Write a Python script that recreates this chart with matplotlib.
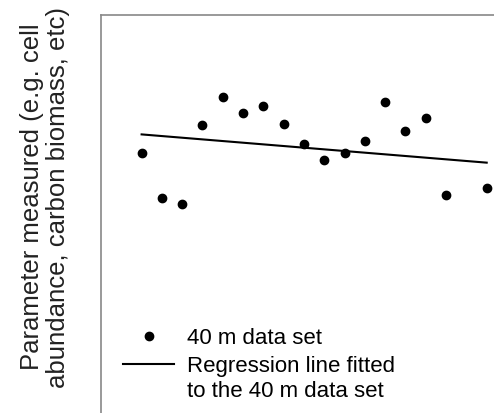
import numpy as np
import matplotlib.pyplot as plt
from matplotlib.lines import Line2D

plt.rcParams['font.family'] = ['Liberation Sans', 'DejaVu Sans']

# 40 m data set (sample index 17 has no value)
x_pts = [1, 2, 3, 4, 5, 6, 7, 8, 9, 10, 11, 12, 13, 14, 15, 16, 18]
y_pts = [65.3, 53.9, 52.4, 72.3, 79.3, 75.4, 77.1, 72.5, 67.7, 63.6,
         65.4, 68.3, 78.1, 70.9, 74.1, 54.8, 56.5]
# regression line end points
x_fit = [1, 18]
y_fit = [70.0, 62.9]

W, H = 494, 414
fig = plt.figure(figsize=(W / 100, H / 100), dpi=100)
ax = fig.add_axes([101 / W, 0.0, 1 - 101 / W, 398 / H])

ax.plot(x_pts, y_pts, 'o', color='black', markersize=6)
ax.plot(x_fit, y_fit, '-', color='black', linewidth=1.5)
ax.set_xlim(-1.0, 18.36)
ax.set_ylim(0, 100)
ax.set_xticks([])
ax.set_yticks([])
for side in ['left', 'top']:
    ax.spines[side].set_color('#888888')
    ax.spines[side].set_linewidth(1.2)
ax.spines['right'].set_visible(False)
ax.spines['bottom'].set_visible(False)


def fx(px):
    return px / W


def fy(py):
    return 1 - py / H


# legend, drawn by hand
fig.add_artist(Line2D([fx(149)], [fy(337)], marker='o', color='black',
                      linestyle='none', markersize=6))
fig.add_artist(Line2D([fx(123), fx(174)], [fy(364.5), fy(364.5)],
                      color='black', linewidth=1.5))
fig.text(fx(187), fy(344), '40 m data set', fontsize=16, va='baseline')
fig.text(fx(187), fy(372), 'Regression line fitted', fontsize=16, va='baseline')
fig.text(fx(187), fy(397), 'to the 40 m data set', fontsize=16, va='baseline')

fig.text(fx(45), fy(197), 'Parameter measured (e.g. cell\nabundance, carbon biomass, etc)',
         rotation=90, ha='center', va='center', fontsize=18.5, color='#222222',
         linespacing=1.1)

fig.savefig('out.png', dpi=100)
